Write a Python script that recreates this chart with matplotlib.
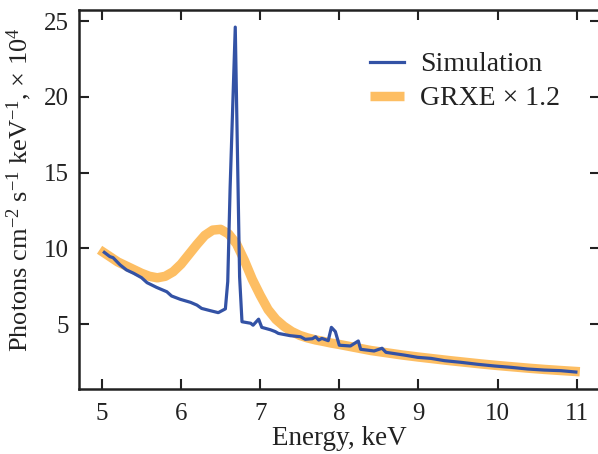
import matplotlib
matplotlib.use("Agg")
import matplotlib.pyplot as plt

plt.rcParams['font.family'] = ['Liberation Serif', 'DejaVu Serif']
plt.rcParams['mathtext.fontset'] = 'custom'
plt.rcParams['mathtext.rm'] = 'Liberation Serif'
plt.rcParams['mathtext.it'] = 'Liberation Serif:italic'

# Simulation spectrum (energy keV, photons x 1e4)
sim_x = [5.03, 5.10, 5.14, 5.23, 5.31, 5.40, 5.50, 5.57, 5.69, 5.82, 5.88, 5.99,
         6.12, 6.20, 6.26, 6.37, 6.47, 6.56, 6.59, 6.62, 6.685, 6.74, 6.77, 6.88,
         6.91, 6.98, 7.02, 7.13, 7.19, 7.23, 7.38, 7.51, 7.57, 7.66, 7.70, 7.74,
         7.78, 7.86, 7.90, 7.95, 8.00, 8.14, 8.24, 8.27, 8.44, 8.54, 8.59, 8.82,
         8.99, 9.16, 9.33, 9.54, 9.75, 9.96, 10.17, 10.38, 10.59, 10.80, 10.99]
sim_y = [9.73, 9.45, 9.38, 8.90, 8.57, 8.35, 8.06, 7.73, 7.42, 7.13, 6.85, 6.63,
         6.43, 6.25, 6.03, 5.88, 5.75, 6.00, 7.80, 14.0, 24.6, 8.10, 5.15, 5.05,
         4.92, 5.32, 4.78, 4.62, 4.50, 4.38, 4.23, 4.16, 3.99, 4.03, 4.16, 3.94,
         4.05, 3.90, 4.78, 4.50, 3.60, 3.55, 3.88, 3.33, 3.22, 3.40, 3.13, 2.95,
         2.80, 2.73, 2.58, 2.47, 2.34, 2.23, 2.14, 2.03, 1.96, 1.92, 1.83]

# GRXE model x 1.2
grxe_x = [4.97, 5.1, 5.2, 5.3, 5.4, 5.5, 5.6, 5.7, 5.8, 5.9, 6.0, 6.1, 6.2, 6.3,
          6.4, 6.5, 6.6, 6.7, 6.8, 6.9, 7.0, 7.1, 7.2, 7.3, 7.4, 7.5, 7.6, 7.7,
          7.8, 7.9, 8.0, 8.2, 8.4, 8.6, 8.8, 9.0, 9.2, 9.4, 9.6, 9.8, 10.0, 10.2,
          10.4, 10.6, 10.8, 11.04]
grxe_y = [9.9, 9.45, 9.1, 8.85, 8.6, 8.35, 8.15, 8.05, 8.15, 8.45, 8.95, 9.6,
          10.25, 10.85, 11.2, 11.25, 10.95, 10.3, 9.2, 7.95, 6.9, 5.95, 5.3, 4.85,
          4.5, 4.25, 4.08, 3.95, 3.85, 3.74, 3.65, 3.45, 3.25, 3.1, 2.95, 2.82,
          2.7, 2.58, 2.47, 2.36, 2.26, 2.17, 2.08, 2.0, 1.93, 1.85]

xticks = [5, 6, 7, 8, 9, 10, 11]
yticks = [5, 10, 15, 20, 25]

tc = '#222222'
fig = plt.figure(figsize=(5.98, 4.54), dpi=100)
# right spine sits just beyond the image edge, as in the reference
ax = fig.add_axes([79/598, 1 - 389/454, (600 - 79)/598, (389 - 10)/454])

ax.plot(grxe_x, grxe_y, color='#FDBE63', lw=6.8, solid_capstyle='butt',
        label='GRXE × 1.2', zorder=2)
ax.plot(sim_x, sim_y, color='#3352A5', lw=2.3, label='Simulation', zorder=3)

ax.set_xlim(4.71, 11.295)
ax.set_ylim(0.71, 25.73)
ax.set_xticks(xticks)
ax.set_yticks(yticks)
ax.tick_params(direction='in', length=7, width=1.5, top=True, right=True,
               labelsize=18, colors=tc)
ax.tick_params(axis='x', pad=10)
ax.tick_params(axis='y', pad=7)
for s in ax.spines.values():
    s.set_linewidth(1.8)
    s.set_color(tc)

ax.set_xlabel('Energy, keV', fontsize=19.5, color=tc, labelpad=1)
ax.set_ylabel(r'Photons cm$\mathregular{^{-2}}$ s$\mathregular{^{-1}}$ keV$\mathregular{^{-1}}$, × 10$\mathregular{^{4}}$',
              fontsize=19, color=tc)
ax.yaxis.set_label_coords(-0.086, 0.525)

handles, labels = ax.get_legend_handles_labels()
leg = ax.legend(handles[::-1], labels[::-1], loc='upper right', frameon=False,
                fontsize=20, handlelength=1.2, handletextpad=0.6,
                labelspacing=0.3, bbox_to_anchor=(0.972, 0.955))
for t in leg.get_texts():
    t.set_color(tc)

fig.savefig('out.png', dpi=100)
